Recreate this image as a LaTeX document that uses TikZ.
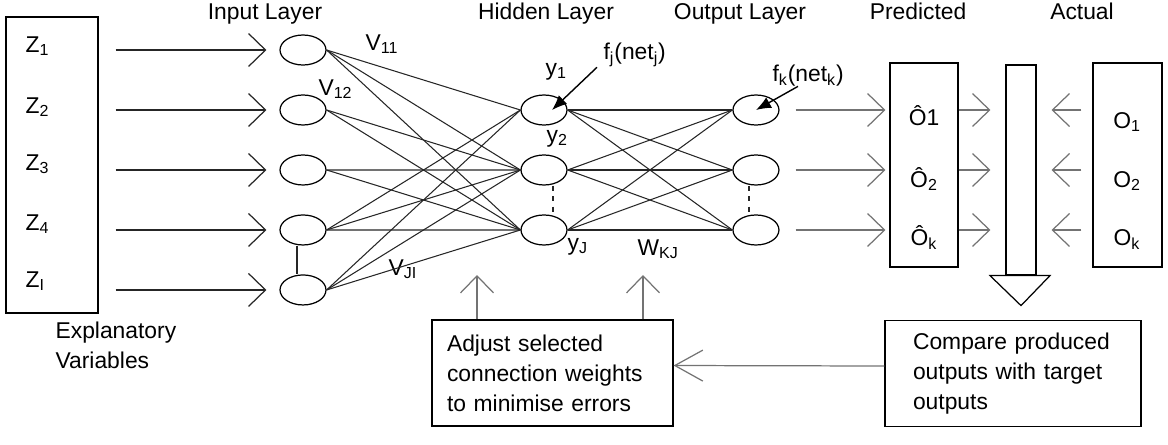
\documentclass[tikz,border=0pt]{standalone}
\usepackage{fontspec}
\setmainfont{Liberation Sans}
\usetikzlibrary{positioning, arrows.meta, shapes.geometric}

\begin{document}
\begin{tikzpicture}[
    x=0.02cm, y=-0.02cm, node distance=1.2cm, on grid,
    line width=0.7pt, font=\fontsize{13}{17}\selectfont,
    >={Straight Barb[length=0.34cm, width=0.66cm]},
    every node/.style={inner sep=0pt},
    neuron/.style={draw, ellipse, minimum width=0.92cm, minimum height=0.6cm},
    wire/.style={black!85, line width=0.6pt},
    flow/.style={->, black!85},
    grayflow/.style={->, black!55},
    pointer/.style={-{Latex[length=0.3cm, width=0.24cm]}, line width=0.8pt},
    panel/.style={draw, align=left, text width=#1, minimum height=2.12cm},
    lbl/.style={anchor=base west},
    head/.style={anchor=base}
]

    % Explanatory variables
    \node[draw, minimum width=1.84cm, minimum height=5.92cm] (zbox) at (52,165) {};
    \node[lbl] (z1) at (25,52) {Z\textsubscript{1}};
    \node[lbl] (z2) at (25,113) {Z\textsubscript{2}};
    \node[lbl] (z3) at (25,170) {Z\textsubscript{3}};
    \node[lbl] (z4) at (25,230) {Z\textsubscript{4}};
    \node[lbl] (zi) at (25,287) {Z\textsubscript{I}};
    \node[anchor=north west, align=left] (expl) at (55,321) {Explanatory\\Variables};

    % Layers
    \node[neuron] (i1) at (303,50) {};
    \node[neuron, below=of i1] (i2) {};
    \node[neuron, below=of i2] (i3) {};
    \node[neuron, below=of i3] (i4) {};
    \node[neuron, below=of i4] (i5) {};
    \node[neuron] (h1) at (544,110) {};
    \node[neuron, below=of h1] (h2) {};
    \node[neuron, below=of h2] (h3) {};
    \node[neuron, right=4.24cm of h1] (o1) {};
    \node[neuron, below=of o1] (o2) {};
    \node[neuron, below=of o2] (o3) {};

    % Titles
    \node[head] (tin) at (265,19) {Input Layer};
    \node[head] (thid) at (546,19) {Hidden Layer};
    \node[head] (tout) at (740,19) {Output Layer};
    \node[head] (tpred) at (918,19) {Predicted};
    \node[head] (tact) at (1082,19) {Actual};

    % Weights and activations
    \node[lbl] (v11) at (365,50) {V\textsubscript{11}};
    \node[lbl] (v12) at (318,95) {V\textsubscript{12}};
    \node[lbl] (vji) at (388,275) {V\textsubscript{JI}};
    \node[lbl] (y1) at (545,75) {y\textsubscript{1}};
    \node[lbl] (y2) at (546,142) {y\textsubscript{2}};
    \node[lbl] (yj) at (567,250) {y\textsubscript{J}};
    \node[lbl] (wkj) at (637,255) {W\textsubscript{KJ}};
    \node[lbl] (fj) at (603,59) {f\textsubscript{j}(net\textsubscript{j})};
    \node[lbl] (fk) at (772,81) {f\textsubscript{k}(net\textsubscript{k})};

    % Predicted / actual
    \node[draw, minimum width=1.36cm, minimum height=4.08cm] (pred) at (924,165) {};
    \node[draw, minimum width=0.6cm, minimum height=4.2cm] (bar) at (1021,170) {};
    \node[draw, minimum width=1.38cm, minimum height=4.08cm] (act) at (1127.5,165) {};
    \node[head] (p1) at (924,125) {\^{O}1};
    \node[head] (p2) at (924,187) {\^{O}\textsubscript{2}};
    \node[head] (pk) at (924,245) {\^{O}\textsubscript{k}};
    \node[head] (a1) at (1127,128) {O\textsubscript{1}};
    \node[head] (a2) at (1127,187) {O\textsubscript{2}};
    \node[head] (ak) at (1127,245) {O\textsubscript{k}};

    % Feedback boxes
    \node[panel=4.22cm, inner xsep=0.3cm] (adj) at (552.5,373) {Adjust selected\\connection weights\\to minimise errors};
    \node[panel=4.0cm, inner xsep=0.56cm] (cmp) at (1013,373.5) {Compare produced\\outputs with target\\outputs};
    \coordinate (vgap) at (477,275);
    \coordinate (wgap) at (643,275);

    % Inputs
    \draw[flow, shorten <=0.34cm, shorten >=0.26cm] (zbox.east |- i1) -- (i1.west);
    \draw[flow, shorten <=0.34cm, shorten >=0.26cm] (zbox.east |- i2) -- (i2.west);
    \draw[flow, shorten <=0.34cm, shorten >=0.26cm] (zbox.east |- i3) -- (i3.west);
    \draw[flow, shorten <=0.34cm, shorten >=0.26cm] (zbox.east |- i4) -- (i4.west);
    \draw[flow, shorten <=0.34cm, shorten >=0.26cm] (zbox.east |- i5) -- (i5.west);

    % Connections
    \draw[wire] (i1.east) edge (h1.west) edge (h2.west) edge (h3.west)
                (i2.east) edge (h2.west) edge (h3.west)
                (i3.east) edge (h2.west) edge (h3.west)
                (i4.east) edge (h1.west) edge (h2.west) edge (h3.west)
                (i5.east) edge (h1.west) edge (h2.west) edge (h3.west);
    \draw[wire] (h1.east) edge (o1.west) edge (o2.west) edge (o3.west)
                (h2.east) edge (o1.west) edge (o2.west) edge (o3.west)
                (h3.east) edge (o1.west) edge (o2.west) edge (o3.west);
    \draw[wire] ([xshift=-0.12cm]i4.south) -- ([xshift=-0.12cm]i5.north);
    \draw[wire, dashed] ([xshift=0.18cm]h2.south) -- ([xshift=0.18cm]h3.north);
    \draw[wire, dashed] ([xshift=-0.14cm]o2.south) -- ([xshift=-0.14cm]o3.north);
    \draw[pointer] ([xshift=-0.12cm]fj.south west) -- ([xshift=0.16cm]h1.center);
    \draw[pointer] ([xshift=0.52cm]fk.south west) -- (o1.center);

    % Outputs to comparison
    \draw[grayflow, shorten <=0.32cm, shorten >=0.08cm] (o1.east) -- (o1 -| pred.west);
    \draw[grayflow, shorten <=0.32cm, shorten >=0.08cm] (o2.east) -- (o2 -| pred.west);
    \draw[grayflow, shorten <=0.32cm, shorten >=0.08cm] (o3.east) -- (o3 -| pred.west);
    \draw[grayflow, shorten >=0.3cm] (o1 -| pred.east) -- (o1 -| bar.west);
    \draw[grayflow, shorten >=0.3cm] (o2 -| pred.east) -- (o2 -| bar.west);
    \draw[grayflow, shorten >=0.3cm] (o3 -| pred.east) -- (o3 -| bar.west);
    \draw[grayflow, shorten <=0.22cm, shorten >=0.3cm] (o1 -| act.west) -- (o1 -| bar.east);
    \draw[grayflow, shorten <=0.22cm, shorten >=0.3cm] (o2 -| act.west) -- (o2 -| bar.east);
    \draw[grayflow, shorten <=0.22cm, shorten >=0.3cm] (o3 -| act.west) -- (o3 -| bar.east);
    \draw ([xshift=-0.62cm]bar.south) -- ([xshift=0.58cm]bar.south) -- ([yshift=-0.6cm]bar.south) -- cycle;

    % Feedback
    \draw[grayflow, -{Straight Barb[length=0.56cm, width=0.62cm]}] ([yshift=0.15cm]cmp.west) -- ([yshift=0.15cm]adj.east);
    \draw[grayflow] (adj.north -| vgap) -- (vgap);
    \draw[grayflow] (adj.north -| wgap) -- (wgap);

    \useasboundingbox (0,0) rectangle (1168,444);
\end{tikzpicture}
\end{document}
